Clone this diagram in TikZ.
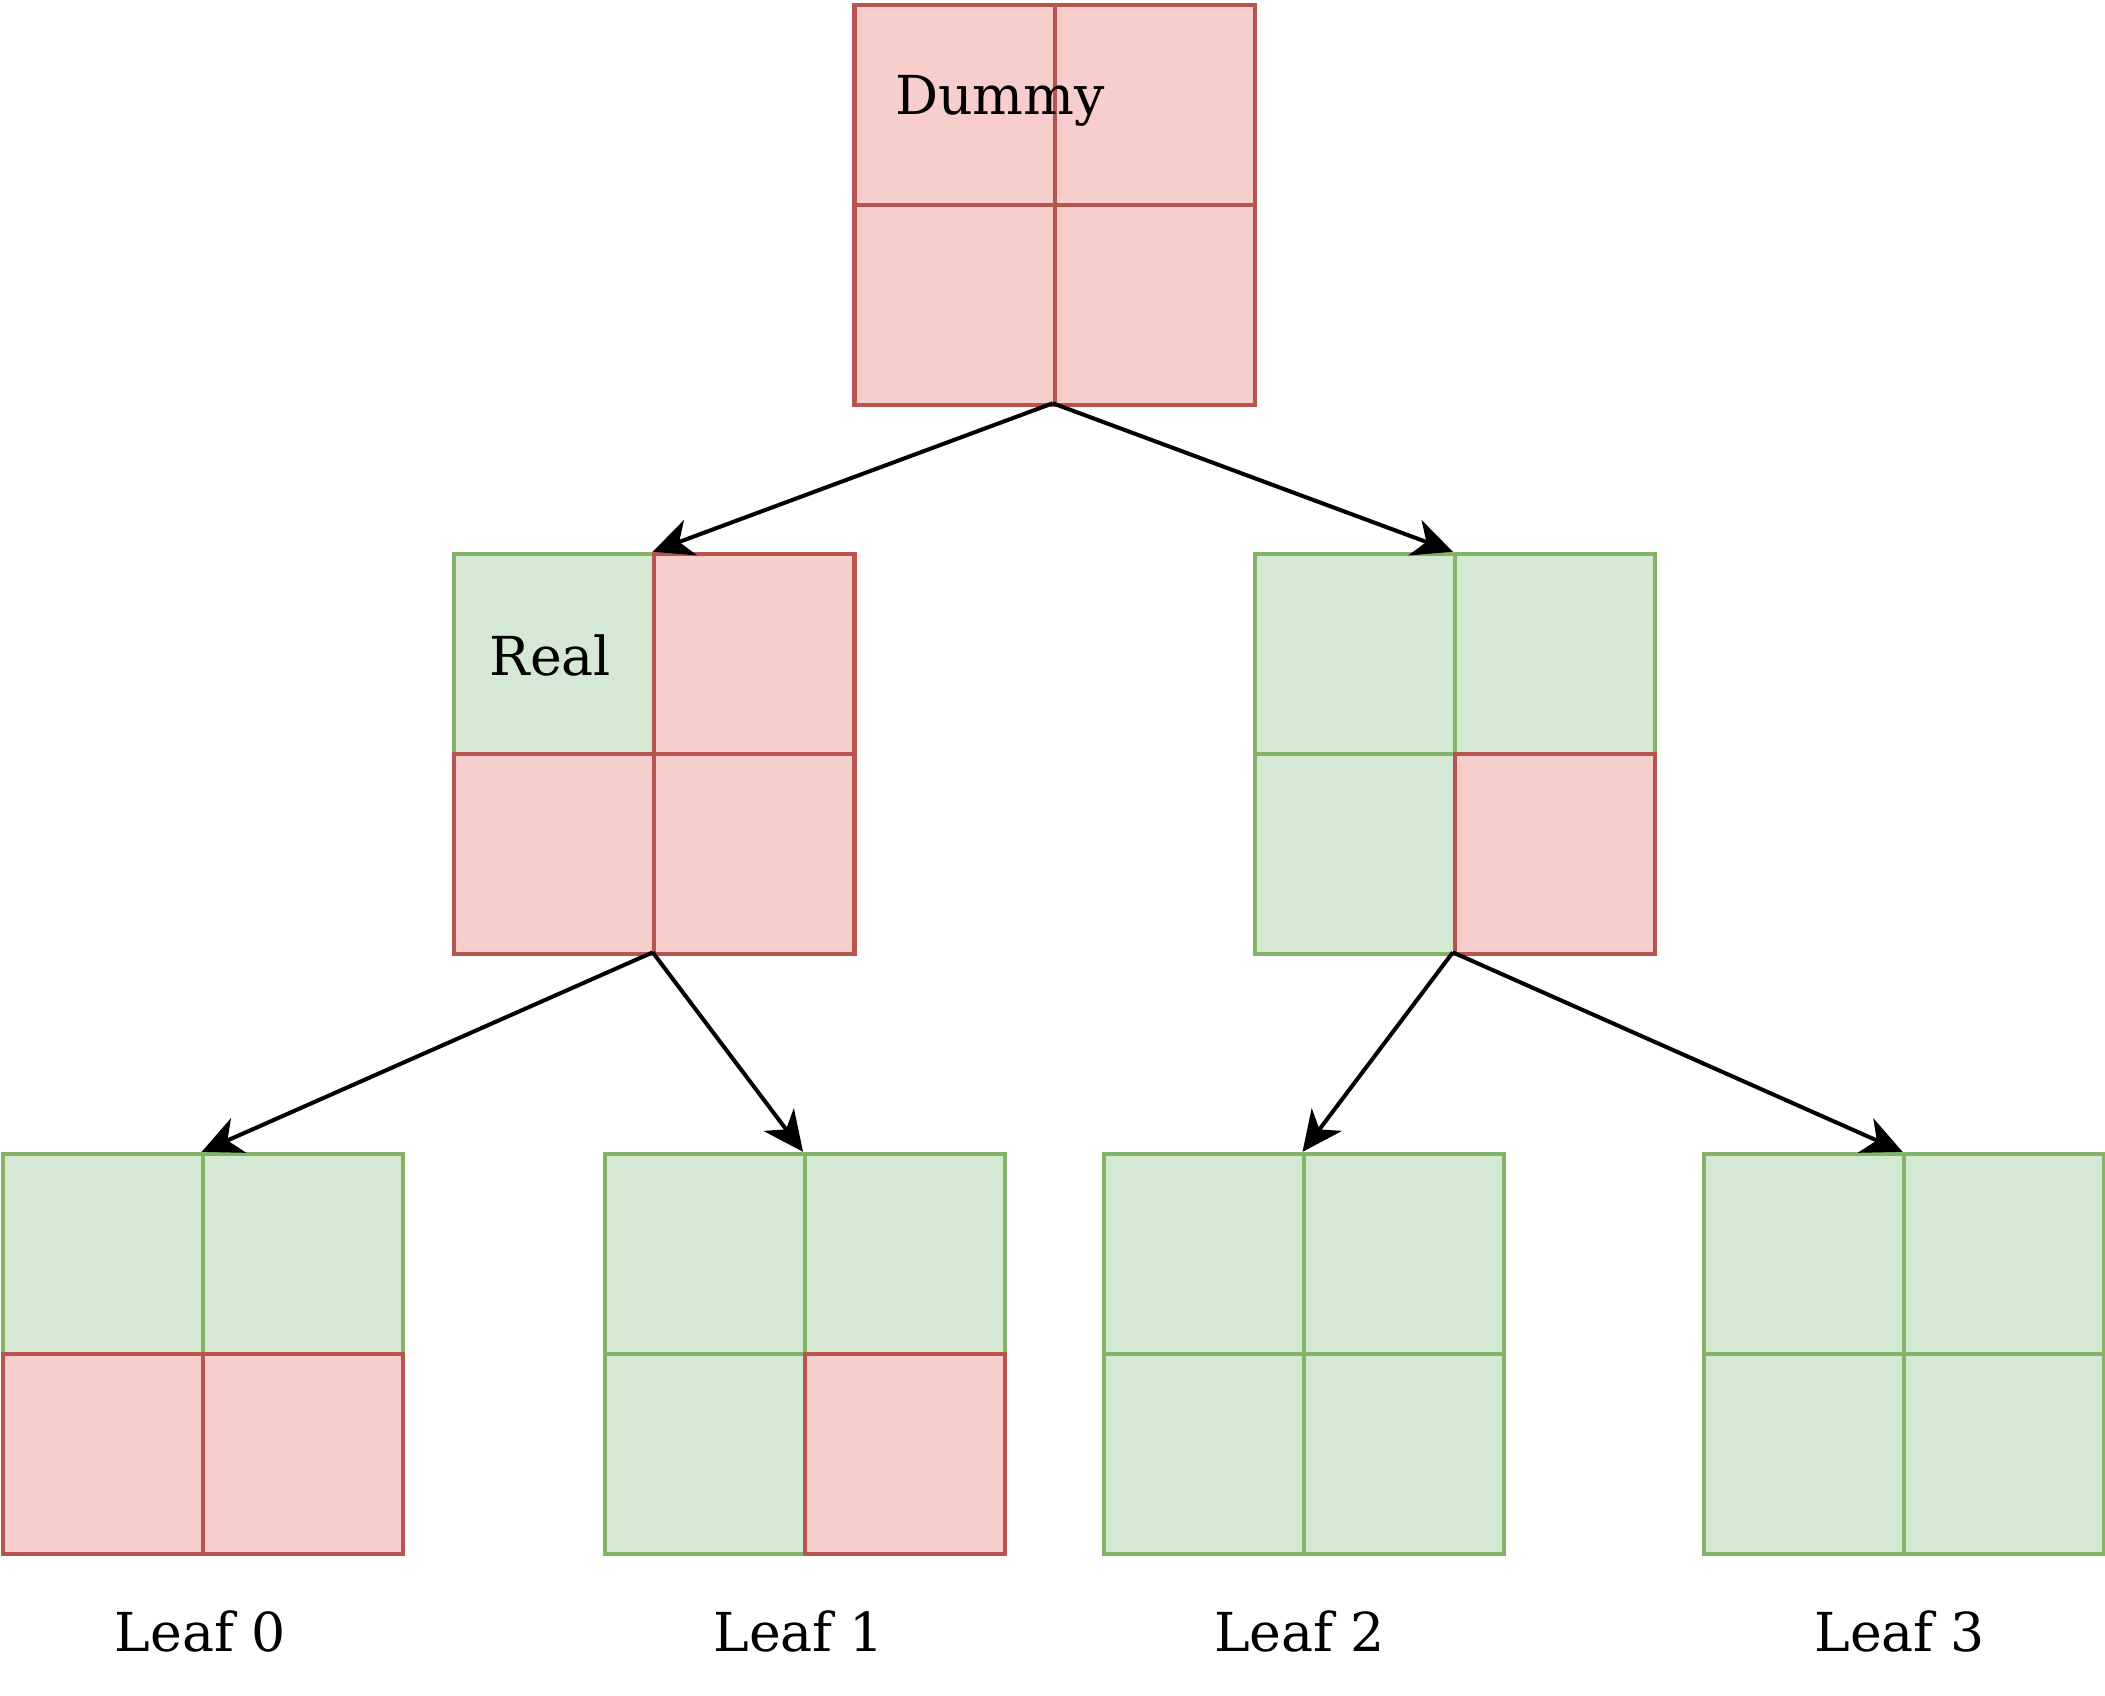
\documentclass[tikz,border=0pt]{standalone}
\usepackage{fontspec}
\setmainfont{DejaVu Serif}
\usetikzlibrary{arrows.meta}
\definecolor{rfill}{HTML}{F8CECC}\definecolor{rline}{HTML}{B85450}
\definecolor{gfill}{HTML}{D5E8D4}\definecolor{gline}{HTML}{82B366}
\tikzset{
 rcell/.style={draw=rline,fill=rfill,line width=3pt,minimum size=149pt,inner sep=0pt,anchor=north west},
 gcell/.style={draw=gline,fill=gfill,line width=3pt,minimum size=149pt,inner sep=0pt,anchor=north west},
 blk/.style={minimum size=298pt,inner sep=0pt,anchor=north west},
 lbl/.style={font=\fontsize{40}{48}\selectfont},
 arr/.style={line width=3pt,-{Stealth[length=30pt,width=28pt,inset=9pt]}}
}
\newcommand\mycell[4]{\node[#4cell] (#1) at (#2,#3) {};}
\begin{document}
\begin{tikzpicture}[x=1pt,y=-1pt]
\useasboundingbox (0,0) rectangle (1568,1263);
% top
\mycell{t1}{635}{2}{r}\mycell{t2}{784}{2}{r}\mycell{t3}{635}{151}{r}\mycell{t4}{784}{151}{r}
\node[blk] (top) at (635,2) {};
% middle left
\mycell{a1}{337}{411}{g}\mycell{a2}{486}{411}{r}\mycell{a3}{337}{560}{r}\mycell{a4}{486}{560}{r}
\node[blk] (ml) at (337,411) {};
% middle right
\mycell{b1}{933}{411}{g}\mycell{b2}{1082}{411}{g}\mycell{b3}{933}{560}{g}\mycell{b4}{1082}{560}{r}
\node[blk] (mr) at (933,411) {};
% leaf 0
\mycell{c1}{1}{858}{g}\mycell{c2}{150}{858}{g}\mycell{c3}{1}{1007}{r}\mycell{c4}{150}{1007}{r}
\node[blk] (l0) at (1,858) {};
% leaf 1
\mycell{d1}{449}{858}{g}\mycell{d2}{598}{858}{g}\mycell{d3}{449}{1007}{g}\mycell{d4}{598}{1007}{r}
\node[blk] (l1) at (449,858) {};
% leaf 2
\mycell{e1}{821}{858}{g}\mycell{e2}{970}{858}{g}\mycell{e3}{821}{1007}{g}\mycell{e4}{970}{1007}{g}
\node[blk] (l2) at (821,858) {};
% leaf 3
\mycell{f1}{1268}{858}{g}\mycell{f2}{1417}{858}{g}\mycell{f3}{1268}{1007}{g}\mycell{f4}{1417}{1007}{g}
\node[blk] (l3) at (1268,858) {};
% texts
\node[lbl] (dummy) at (745,75) {Dummy};
\node[lbl] (real) at (410,488) {Real};
\node[lbl] (t0) at (149,1215) {Leaf 0};
\node[lbl] (tl1) at (595,1215) {Leaf 1};
\node[lbl] (tl2) at (968,1215) {Leaf 2};
\node[lbl] (tl3) at (1415,1215) {Leaf 3};
% arrows
\draw[arr] (top.south) -- (ml.north);
\draw[arr] (top.south) -- (mr.north);
\draw[arr] (ml.south) -- (l0.north);
\draw[arr] (ml.south) -- (l1.north);
\draw[arr] (mr.south) -- (l2.north);
\draw[arr] (mr.south) -- (l3.north);
\end{tikzpicture}
\end{document}
